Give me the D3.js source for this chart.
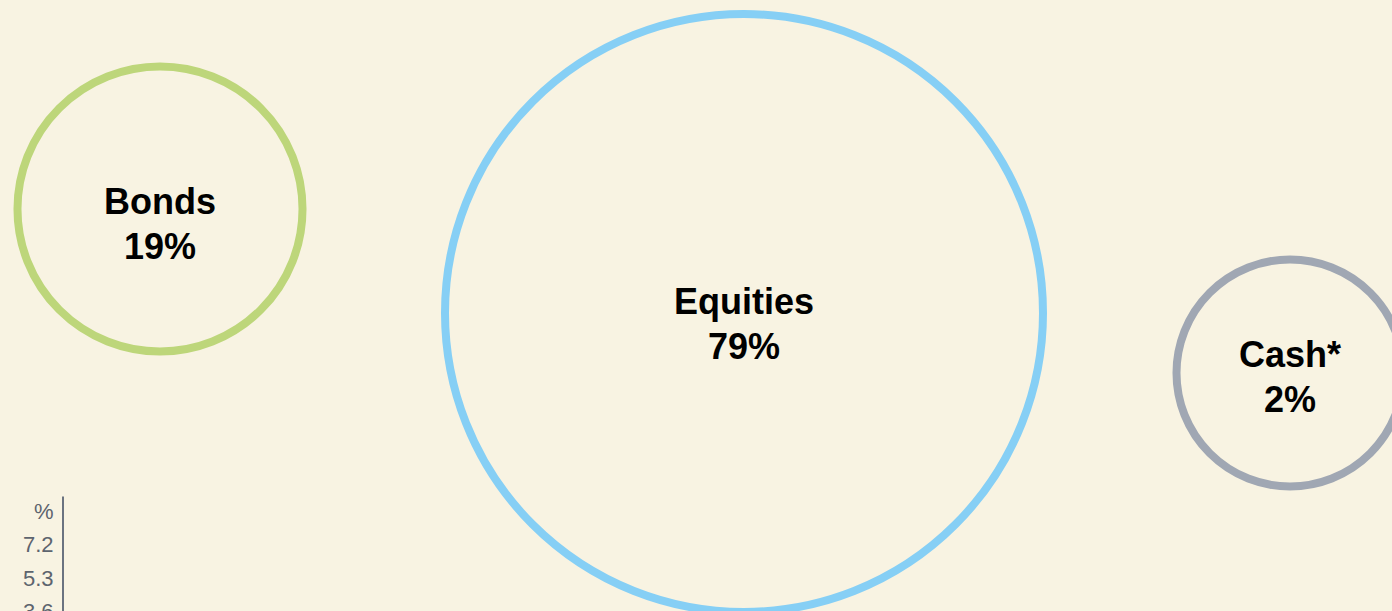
<!DOCTYPE html>
<html>
<head>
<meta charset="utf-8">
<script src="https://cdn.jsdelivr.net/npm/d3@7"></script>
<style>
  html, body { margin: 0; padding: 0; background: #f8f3e2; overflow: hidden; }
  svg { display: block; }
  .bubble-label { font-family: "Liberation Sans", Arial, Helvetica, sans-serif; font-weight: bold; font-size: 36px; fill: #000; }
  .axis text { font-family: "Liberation Sans", Arial, Helvetica, sans-serif; font-size: 22px; fill: #5d646e; }
  .axis path { stroke: #6b7380; stroke-width: 2px; }
</style>
</head>
<body>
<script>
// data
var categories = ["Bonds", "Equities", "Cash*"];
var shares = [19, 79, 2];
var colours = ["#bdd67a", "#86cff5", "#a0a7b3"];
var axisLabels = ["%", "7.2", "5.3", "3.6"];

var width = 1392,
    height = 611;

// where each bubble sits on the page, and where its label baseline starts
var centres = [[160, 209], [744, 313], [1290, 373]];
var labelTop = [5, 1, -6];
var minRadius = 113.5;

var svg = d3.select("body")
    .append("svg")
    .attr("width", width)
    .attr("height", height);

var r = d3.scalePow()
    .exponent(0.52)
    .domain([0, d3.max(shares)])
    .range([0, 299]);

var bubbles = svg.selectAll("g.bubble")
    .data(categories.map(function(c, i) {
        return {name: c, value: shares[i], colour: colours[i], x: centres[i][0], y: centres[i][1], ly: labelTop[i]};
    }))
    .enter()
    .append("g")
    .attr("class", "bubble")
    .attr("transform", function(d) { return "translate(" + d.x + "," + d.y + ")"; });

bubbles.append("circle")
    .attr("r", function(d) { return Math.max(minRadius, r(d.value)); })
    .style("fill", "none")
    .style("stroke", function(d) { return d.colour; })
    .style("stroke-width", 8);

var label = bubbles.append("text")
    .attr("class", "bubble-label")
    .attr("text-anchor", "middle");

label.append("tspan")
    .attr("x", 0)
    .attr("y", function(d) { return d.ly; })
    .text(function(d) { return d.name; });

label.append("tspan")
    .attr("x", 0)
    .attr("y", function(d) { return d.ly + 45; })
    .text(function(d) { return d.value + "%"; });

// partial axis peeking in at the bottom left
var y = d3.scalePoint()
    .domain(axisLabels)
    .range([496, 625])
    .padding(0.435);

svg.append("g")
    .attr("class", "axis")
    .attr("transform", "translate(62.5,0)")
    .call(d3.axisLeft(y).tickSize(0).tickPadding(9))
    .call(function(g) { g.selectAll(".tick text").attr("dy", "0.36em"); });
</script>
</body>
</html>
